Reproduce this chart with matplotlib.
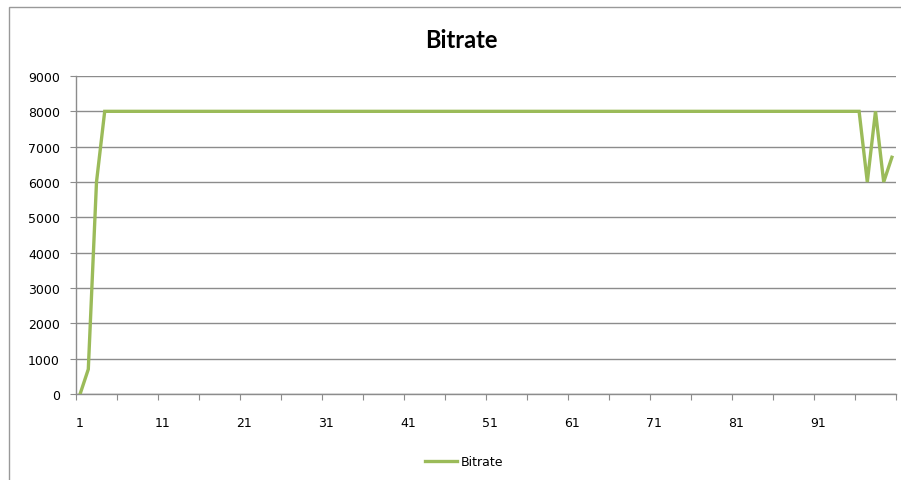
import numpy as np
import matplotlib
matplotlib.use("Agg")
import matplotlib.pyplot as plt
from matplotlib.patches import Rectangle

# --- datos ---
categorias = list(range(1, 101))
bitrate = [
    0, 700, 6000, 8000, 8000, 8000, 8000, 8000, 8000, 8000,
    8000, 8000, 8000, 8000, 8000, 8000, 8000, 8000, 8000, 8000,
    8000, 8000, 8000, 8000, 8000, 8000, 8000, 8000, 8000, 8000,
    8000, 8000, 8000, 8000, 8000, 8000, 8000, 8000, 8000, 8000,
    8000, 8000, 8000, 8000, 8000, 8000, 8000, 8000, 8000, 8000,
    8000, 8000, 8000, 8000, 8000, 8000, 8000, 8000, 8000, 8000,
    8000, 8000, 8000, 8000, 8000, 8000, 8000, 8000, 8000, 8000,
    8000, 8000, 8000, 8000, 8000, 8000, 8000, 8000, 8000, 8000,
    8000, 8000, 8000, 8000, 8000, 8000, 8000, 8000, 8000, 8000,
    8000, 8000, 8000, 8000, 8000, 8000, 6000, 8000, 6000, 6700,
]
etiquetas_x = [1, 11, 21, 31, 41, 51, 61, 71, 81, 91]
ticks_y = [0, 1000, 2000, 3000, 4000, 5000, 6000, 7000, 8000, 9000]

gris = '#8c8c8c'
verde = '#9bbb59'

fig = plt.figure(figsize=(9.01, 4.81), dpi=100)
ax = fig.add_axes([76 / 901, 1 - 395 / 481, 820 / 901, 318 / 481])

# marco del area del grafico (se sale por la derecha y abajo)
fig.patches.append(Rectangle((9 / 901, -0.1), 1.2, 1 - 8 / 481 + 0.1,
                             transform=fig.transFigure, fill=False,
                             edgecolor='#999999', lw=1))

ax.plot(categorias, bitrate, color=verde, lw=2.4, label='Bitrate',
        solid_joinstyle='miter', zorder=3)

ax.set_xlim(0.5, 100.5)
ax.set_ylim(0, 9000)

# eje y
ax.set_yticks(ticks_y)
ax.set_yticklabels([str(v) for v in ticks_y])
ax.yaxis.grid(True, color=gris, lw=1)
ax.tick_params(axis='y', direction='out', length=4.5, color=gris, pad=7,
               labelsize=9, labelcolor='#000000')

# eje x: marcas cada 5 categorias, etiquetas cada 10
ax.set_xticks(np.arange(0.5, 101, 5))
ax.set_xticklabels([])
ax.set_xticks(etiquetas_x, minor=True)
ax.set_xticklabels([str(v) for v in etiquetas_x], minor=True)
ax.tick_params(axis='x', which='major', direction='out', length=4, color=gris)
ax.tick_params(axis='x', which='minor', length=0, pad=16, labelsize=9)

for lado in ['top', 'right']:
    ax.spines[lado].set_visible(False)
for lado in ['left', 'bottom']:
    ax.spines[lado].set_color(gris)
    ax.spines[lado].set_linewidth(1)
ax.set_axisbelow(True)

fig.text(461 / 901, 1 - 41 / 481, 'Bitrate', ha='center', va='center',
         fontsize=17, fontweight='bold', family=['Lato', 'DejaVu Sans'])

fig.legend(loc='center', bbox_to_anchor=(464 / 901, 1 - 463 / 481),
           frameon=False, fontsize=9, handlelength=2.6, handletextpad=0.3)

fig.savefig('out.png', dpi=100)
